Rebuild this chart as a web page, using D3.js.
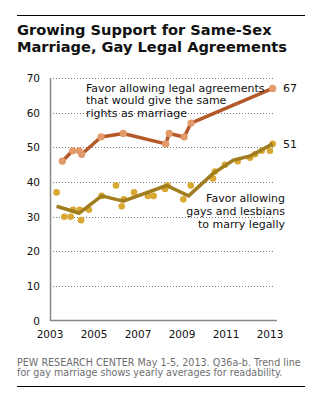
<!DOCTYPE html>
<html>
<head>
<meta charset="utf-8">
<script src="https://cdn.jsdelivr.net/npm/d3@7"></script>
<style>
  body { margin: 0; background: #fff; }
  svg { display: block; font-family: "DejaVu Sans", Verdana, sans-serif; }
</style>
</head>
<body>
<script>
// survey dates as fractional years, values in percent
var legalDates = [2003.56, 2004.03, 2004.33, 2004.44, 2005.32, 2006.33, 2008.26, 2008.42, 2009.10, 2009.41, 2013.12];
var legalValues = [46, 49, 49, 48, 53, 54, 51, 54, 53, 57, 67];

var marriageDates = [2003.3, 2003.65, 2003.94, 2004.05, 2004.35, 2004.41, 2004.77, 2005.35, 2006.0, 2006.26,
  2006.36, 2006.82, 2007.45, 2007.71, 2008.23, 2008.34, 2009.06, 2009.4, 2010.41, 2010.5,
  2010.95, 2011.53, 2012.09, 2012.32, 2012.62, 2013.0, 2013.12];
var marriageValues = [37, 30, 30, 32, 32, 29, 32, 36, 39, 33,
  35, 37, 36, 36, 38, 39, 35, 39, 41, 43,
  45, 46, 47, 48, 49, 49, 51];

// yearly averages for the trend line
var trendDates = [2003.3, 2004.33, 2005.35, 2006.33, 2008.3, 2009.3, 2010.42, 2011.33, 2012.1, 2013.12];
var trendValues = [33, 31, 36, 34.5, 39, 36, 42.5, 46.3, 47.5, 51];

var yTicks = [0, 10, 20, 30, 40, 50, 60, 70];
var xTicks = [2003, 2005, 2007, 2009, 2011, 2013];

var width = 324, height = 398;

var svg = d3.select("body").append("svg")
  .attr("width", width).attr("height", height);

var x = d3.scaleLinear().domain([2003, 2013]).range([50, 270]);
var y = d3.scaleLinear().domain([0, 70]).range([320.7, 78]);

// top and bottom rules
svg.append("line").attr("x1", 17).attr("x2", 305).attr("y1", 15.5).attr("y2", 15.5)
  .attr("stroke", "#000").attr("stroke-width", 1);
svg.append("line").attr("x1", 17).attr("x2", 305).attr("y1", 386.5).attr("y2", 386.5)
  .attr("stroke", "#000").attr("stroke-width", 1);

// title
["Growing Support for Same-Sex", "Marriage, Gay Legal Agreements"].forEach(function (t, i) {
  svg.append("text").attr("x", 17).attr("y", 35 + i * 17)
    .attr("font-weight", "bold").attr("font-size", 14.6).attr("fill", "#111")
    .text(t);
});

// gridlines
svg.append("g").selectAll("line")
  .data(yTicks.filter(function (d) { return d > 0; }))
  .join("line")
  .attr("x1", 50).attr("x2", 275)
  .attr("y1", function (d) { return Math.round(y(d)) + 0.5; })
  .attr("y2", function (d) { return Math.round(y(d)) + 0.5; })
  .attr("stroke", "#777").attr("stroke-dasharray", "1,2");

// y labels
svg.append("g").selectAll("text")
  .data(yTicks)
  .join("text")
  .attr("x", 40).attr("y", function (d) { return y(d) + 4; })
  .attr("text-anchor", "end").attr("font-size", 10.5).attr("fill", "#111")
  .text(function (d) { return d; });

// x labels
svg.append("g").selectAll("text")
  .data(xTicks)
  .join("text")
  .attr("x", function (d) { return x(d); }).attr("y", 338)
  .attr("text-anchor", "middle").attr("font-size", 10.5).attr("fill", "#111")
  .text(function (d) { return d; });

// axes lines
svg.append("line").attr("x1", 50.5).attr("x2", 50.5).attr("y1", 78).attr("y2", 321)
  .attr("stroke", "#888").attr("stroke-width", 1.5);
svg.append("line").attr("x1", 50).attr("x2", 277).attr("y1", 320.5).attr("y2", 320.5)
  .attr("stroke", "#888").attr("stroke-width", 1.5);

var line = d3.line()
  .x(function (d) { return x(d[0]); })
  .y(function (d) { return y(d[1]); });

// gay marriage dots and trend line
var marriage = d3.zip(marriageDates, marriageValues);
svg.append("g").selectAll("circle")
  .data(marriage)
  .join("circle")
  .attr("cx", function (d) { return x(d[0]); })
  .attr("cy", function (d) { return y(d[1]); })
  .attr("r", 3.3)
  .attr("fill", "#d8a831");

svg.append("path")
  .datum(d3.zip(trendDates, trendValues))
  .attr("d", line)
  .attr("fill", "none").attr("stroke", "#a07d1f").attr("stroke-width", 3.5)
  .attr("stroke-linejoin", "round");

// legal agreements line and dots
var legal = d3.zip(legalDates, legalValues);
svg.append("path")
  .datum(legal)
  .attr("d", line)
  .attr("fill", "none").attr("stroke", "#b4592a").attr("stroke-width", 3.5)
  .attr("stroke-linejoin", "round");

svg.append("g").selectAll("circle")
  .data(legal)
  .join("circle")
  .attr("cx", function (d) { return x(d[0]); })
  .attr("cy", function (d) { return y(d[1]); })
  .attr("r", 3.6)
  .attr("fill", "#e39a6b");

// end labels
svg.append("text").attr("x", 283).attr("y", y(67) + 4).attr("font-size", 11)
  .attr("fill", "#111").text(legalValues[legalValues.length - 1]);
svg.append("text").attr("x", 283).attr("y", y(51) + 4).attr("font-size", 11)
  .attr("fill", "#111").text(marriageValues[marriageValues.length - 1]);

// annotations
var a1 = svg.append("text").attr("font-size", 11).attr("fill", "#111");
["Favor allowing legal agreements", "that would give the same", "rights as marriage"]
  .forEach(function (t, i) {
    a1.append("tspan").attr("x", 86).attr("y", 91.5 + i * 12.5).text(t);
  });

var a2 = svg.append("text").attr("font-size", 11).attr("fill", "#111")
  .attr("text-anchor", "end");
["Favor allowing", "gays and lesbians", "to marry legally"]
  .forEach(function (t, i) {
    a2.append("tspan").attr("x", 285).attr("y", 202 + i * 13).text(t);
  });

// source note
var note = svg.append("text").attr("font-size", 9.6).attr("fill", "#6e6e6e");
note.append("tspan").attr("x", 17).attr("y", 366)
  .text("PEW RESEARCH  CENTER May 1-5, 2013. Q36a-b. Trend line");
note.append("tspan").attr("x", 17).attr("y", 376)
  .text("for gay marriage shows yearly averages for readability.");
</script>
</body>
</html>
